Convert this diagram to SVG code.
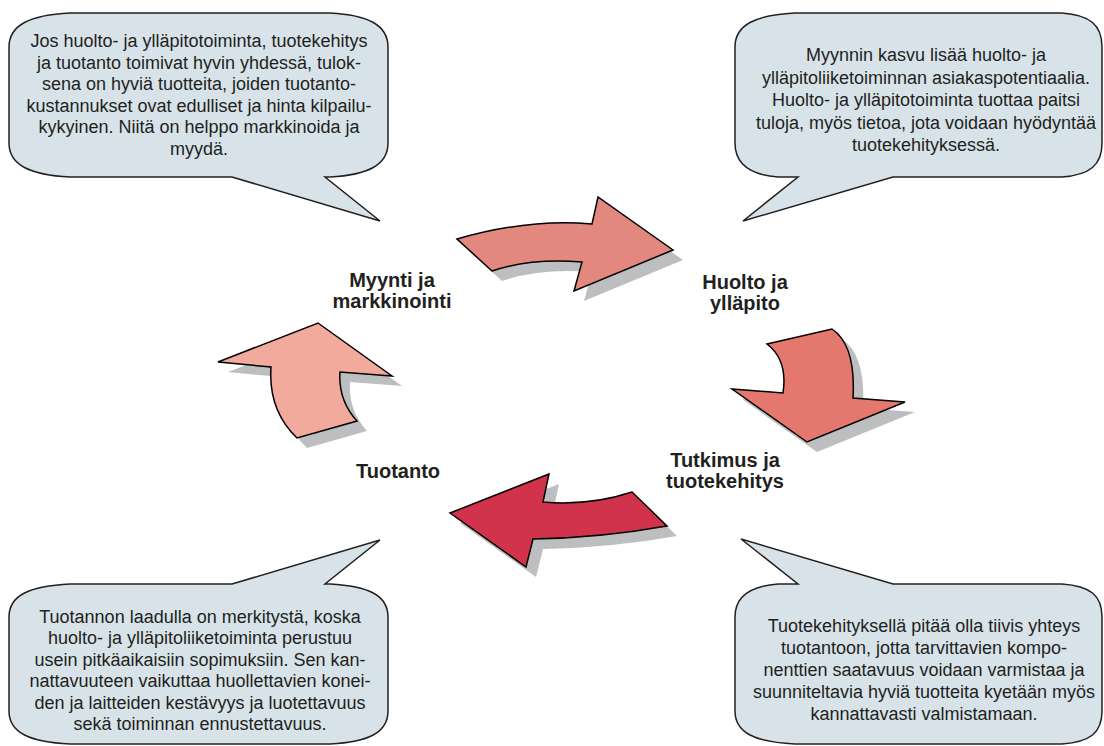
<svg xmlns="http://www.w3.org/2000/svg" xmlns:xlink="http://www.w3.org/1999/xlink" width="1104" height="746" viewBox="0 0 1104 746">
<style>
.bubble{fill:#d7e3e9;stroke:#231f20;stroke-width:1.5;stroke-linejoin:miter}
.btext{font-family:"Liberation Sans",Arial,sans-serif;font-size:18px;fill:#231f20;text-anchor:middle}
.label{font-family:"Liberation Sans",Arial,sans-serif;font-size:20px;font-weight:bold;fill:#231f20;text-anchor:middle}
.arrow{stroke:#000;stroke-width:1.5;stroke-linejoin:miter}
.shadow{fill:#bcbec0;stroke:none}
</style>
<defs>
<path id="a1" d="M457,239 Q530,218 592,224 L598,197 L673,250 L574,291 L582,262 Q530,258 492,271 Z"/>
<path id="a2" d="M767,344 L832,329 Q856,345 853,398 L905,402 L807,442 L732,389 L783,393 Q788,360 767,344 Z"/>
<path id="a3" d="M632,492 L667,526 Q600,538 533,539 L526,567 L450,513 L549,474 L543,502 Q590,506 632,492 Z"/>
<path id="a4" d="M318,323 L392,376 L340,372 Q338,400 357,421 L297,438 Q268,410 271,367 L218,362 Z"/>
</defs>
<rect width="1104" height="746" fill="#ffffff"/>

<g id="bubble-top-left">
<path class="bubble" d="M9,47 C9,25 30,15 70,13 L330,13 C368,15 388,25 388,47 L388,143 C388,165 368,175 330,177 L325,177 L380,221 L232,177 L70,177 C30,175 9,165 9,143 Z"/>
<text class="btext"><tspan x="199" y="47">Jos huolto- ja ylläpitotoiminta, tuotekehitys</tspan><tspan x="199" y="68.6">ja tuotanto toimivat hyvin yhdessä, tulok-</tspan><tspan x="199" y="90.2">sena on hyviä tuotteita, joiden tuotanto-</tspan><tspan x="199" y="111.8">kustannukset ovat edulliset ja hinta kilpailu-</tspan><tspan x="199" y="133.4">kykyinen. Niitä on helppo markkinoida ja</tspan><tspan x="199" y="155">myydä.</tspan></text>
</g>

<g id="bubble-top-right">
<path class="bubble" d="M735,47 C735,25 755,15 795,13 L1062,13 C1090,15 1102,25 1102,47 L1102,143 C1102,165 1090,175 1062,177 L893,177 L743,221 L798,177 L778,177 C752,175 735,165 735,143 Z"/>
<text class="btext"><tspan x="926" y="61">Myynnin kasvu lisää huolto- ja</tspan><tspan x="926" y="83.5">ylläpitoliiketoiminnan asiakaspotentiaalia.</tspan><tspan x="926" y="106">Huolto- ja ylläpitotoiminta tuottaa paitsi</tspan><tspan x="926" y="128.5">tuloja, myös tietoa, jota voidaan hyödyntää</tspan><tspan x="926" y="151">tuotekehityksessä.</tspan></text>
</g>

<g id="bubble-bottom-left">
<path class="bubble" d="M9,617 C9,595 30,586 70,584 L232,584 L380,540 L325,584 L330,584 C368,586 388,595 388,617 L388,711 C388,733 368,742 330,744 L70,744 C30,742 9,733 9,711 Z"/>
<text class="btext"><tspan x="200" y="623">Tuotannon laadulla on merkitystä, koska</tspan><tspan x="200" y="644.4">huolto- ja ylläpitoliiketoiminta perustuu</tspan><tspan x="200" y="665.8">usein pitkäaikaisiin sopimuksiin. Sen kan-</tspan><tspan x="200" y="687.2">nattavuuteen vaikuttaa huollettavien konei-</tspan><tspan x="200" y="708.6">den ja laitteiden kestävyys ja luotettavuus</tspan><tspan x="200" y="730">sekä toiminnan ennustettavuus.</tspan></text>
</g>

<g id="bubble-bottom-right">
<path class="bubble" d="M735,617 C735,595 752,586 778,584 L798,584 L741,539 L893,584 L1062,584 C1090,586 1102,595 1102,617 L1102,711 C1102,733 1090,742 1062,744 L795,744 C755,742 735,733 735,711 Z"/>
<text class="btext"><tspan x="924" y="632">Tuotekehityksellä pitää olla tiivis yhteys</tspan><tspan x="924" y="654">tuotantoon, jotta tarvittavien kompo-</tspan><tspan x="924" y="676">nenttien saatavuus voidaan varmistaa ja</tspan><tspan x="924" y="698">suunniteltavia hyviä tuotteita kyetään myös</tspan><tspan x="924" y="720">kannattavasti valmistamaan.</tspan></text>
</g>

<g id="connectors">
<use xlink:href="#a1" href="#a1" class="shadow" transform="translate(10,10)"/>
<use xlink:href="#a1" href="#a1" class="arrow" fill="#e3887e"/>
<use xlink:href="#a2" href="#a2" class="shadow" transform="translate(10,10)"/>
<use xlink:href="#a2" href="#a2" class="arrow" fill="#e4786f"/>
<use xlink:href="#a3" href="#a3" class="shadow" transform="translate(10,10)"/>
<use xlink:href="#a3" href="#a3" class="arrow" fill="#d0334b"/>
<use xlink:href="#a4" href="#a4" class="shadow" transform="translate(10,10)"/>
<use xlink:href="#a4" href="#a4" class="arrow" fill="#f1aa9b"/>
</g>

<g id="node-myynti">
<text class="label"><tspan x="392" y="287">Myynti ja</tspan><tspan x="392" y="308">markkinointi</tspan></text>
</g>
<g id="node-huolto">
<text class="label"><tspan x="745" y="289">Huolto ja</tspan><tspan x="745" y="310">ylläpito</tspan></text>
</g>
<g id="node-tutkimus">
<text class="label"><tspan x="725" y="467">Tutkimus ja</tspan><tspan x="725" y="488">tuotekehitys</tspan></text>
</g>
<g id="node-tuotanto">
<text class="label"><tspan x="398" y="478">Tuotanto</tspan></text>
</g>
</svg>
